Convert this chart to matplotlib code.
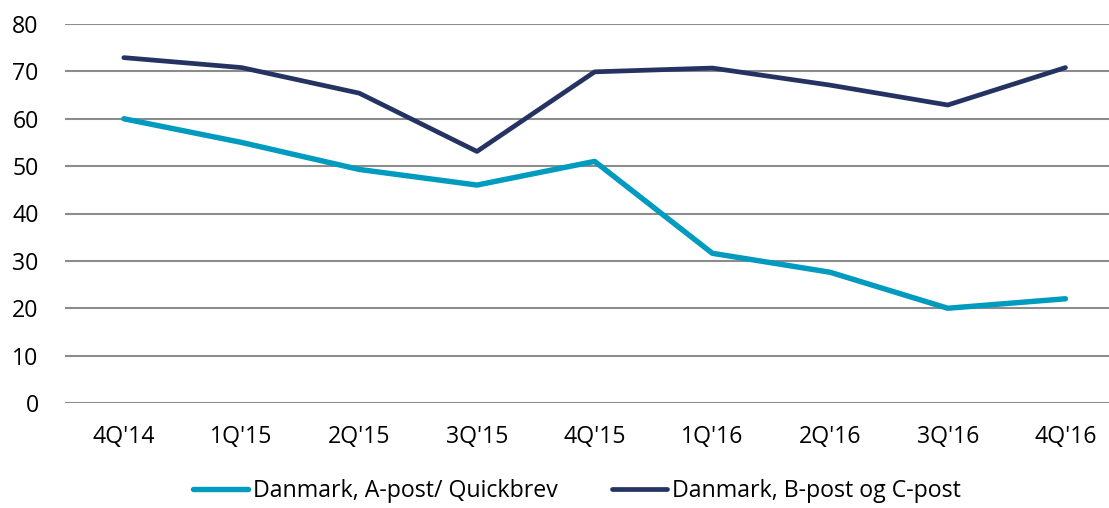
import matplotlib
matplotlib.use("Agg")
import matplotlib.pyplot as plt

quarters = ["4Q'14", "1Q'15", "2Q'15", "3Q'15", "4Q'15", "1Q'16", "2Q'16", "3Q'16", "4Q'16"]
a_post = [60, 55, 49.3, 46, 51, 31.6, 27.6, 20, 22]
b_post = [72.9, 70.8, 65.4, 53.1, 69.9, 70.7, 67.1, 62.9, 70.8]
labels = ["Danmark, A-post/ Quickbrev", "Danmark, B-post og C-post"]
y_ticks = [0, 10, 20, 30, 40, 50, 60, 70, 80]

plt.rcParams["font.family"] = ["Open Sans", "DejaVu Sans"]
FS = 16.7

fig = plt.figure(figsize=(11.09, 5.08), dpi=100)
ax = fig.add_axes([65 / 1109, 105 / 508, 1 - 65 / 1109, 379 / 508])

x = list(range(len(quarters)))
ax.plot(x, a_post, color="#009BBE", linewidth=3.9, solid_capstyle="round",
        label=labels[0], zorder=3)
ax.plot(x, b_post, color="#243362", linewidth=3.4, solid_capstyle="round",
        label=labels[1], zorder=3)

ax.set_xlim(-0.5, 8.37)
ax.set_ylim(0, 80)
ax.set_yticks(y_ticks)
ax.set_xticks(x)
ax.set_xticklabels(quarters)
ax.yaxis.grid(True, color="#8C8C8C", linewidth=1.5)
ax.set_axisbelow(True)
for s in ax.spines.values():
    s.set_visible(False)
ax.tick_params(axis="both", length=0, labelsize=FS, colors="black")
ax.tick_params(axis="x", pad=16)
ax.tick_params(axis="y", pad=19)

px = FS * 100 / 72
fig.legend(loc="center", bbox_to_anchor=(577 / 1109, 1 - 491 / 508), ncol=2,
           frameon=False, fontsize=FS, handlelength=55 / px,
           handletextpad=5 / px, columnspacing=55 / px, borderpad=0)

fig.savefig("out.png", dpi=100)
